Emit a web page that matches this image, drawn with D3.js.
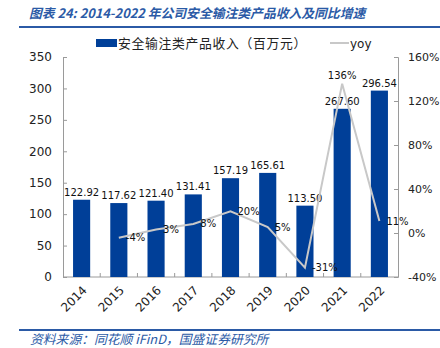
<!DOCTYPE html>
<html><head><meta charset="utf-8">
<script src="https://cdn.jsdelivr.net/npm/d3@7/dist/d3.min.js"></script>
<style>
html,body{margin:0;padding:0;background:#fff;}
svg{display:block;}
</style></head>
<body>
<script>
const years = ["2014","2015","2016","2017","2018","2019","2020","2021","2022"];
const revenue = [122.92,117.62,121.40,131.41,157.19,165.61,113.50,267.60,296.54];
const yoyYears = ["2015","2016","2017","2018","2019","2020","2021","2022"];
const yoy = [-4.31,3.21,8.25,19.62,5.36,-31.47,135.77,10.81];
const yoyLabels = ["-4%","3%","8%","20%","5%","-31%","136%","11%"];
const leftTicks = [0,50,100,150,200,250,300,350];
const rightTicks = [-40,0,40,80,120,160];
const titleText = "图表 24:  2014-2022 年公司安全输注类产品收入及同比增速";
const sourceText = "资料来源：同花顺 iFinD，国盛证券研究所";
const legendBar = "安全输注类产品收入（百万元）";
const legendLine = "yoy";

const W = 440, H = 348;
const blue = "#003f98", gray = "#c8c8c8", axisC = "#9a9a9a", hdr = "#2b5aa6";
const svg = d3.select("body").append("svg").attr("width", W).attr("height", H);

const x0 = 63, x1 = 398, yTop = 57, yBot = 277;
const x = d3.scaleBand().domain(years).range([x0, x1]).paddingInner(0.54).paddingOuter(0.27);
const xc = d => x(d) + x.bandwidth() / 2;
const yL = d3.scaleLinear().domain([0, 350]).range([yBot, yTop]);
const yR = d3.scaleLinear().domain([-40, 160]).range([yBot, yTop]);

// title
svg.append("text").attr("x", 29).attr("y", 18)
  .attr("font-family", "'Noto Sans CJK SC', sans-serif").attr("font-style", "italic")
  .attr("font-weight", "bold").attr("font-size", 12.8).attr("fill", hdr).text(titleText);
svg.append("line").attr("x1", 19).attr("x2", W).attr("y1", 27).attr("y2", 27)
  .attr("stroke", hdr).attr("stroke-width", 2);

// footer
svg.append("line").attr("x1", 19).attr("x2", W).attr("y1", 330).attr("y2", 330)
  .attr("stroke", hdr).attr("stroke-width", 2);
svg.append("text").attr("x", 30).attr("y", 344)
  .attr("font-family", "'Noto Sans CJK SC', sans-serif").attr("font-style", "italic")
  .attr("font-size", 12.8).attr("fill", hdr).text(sourceText);

// legend
svg.append("rect").attr("x", 96).attr("y", 39).attr("width", 21).attr("height", 8).attr("fill", blue);
svg.append("text").attr("x", 118).attr("y", 47.5)
  .attr("font-family", "'Noto Sans CJK SC', sans-serif").attr("font-size", 12.8)
  .attr("letter-spacing", 0.7).attr("fill", "#222").text(legendBar);
svg.append("line").attr("x1", 330).attr("x2", 349).attr("y1", 43).attr("y2", 43)
  .attr("stroke", gray).attr("stroke-width", 2);
svg.append("text").attr("x", 350).attr("y", 47.5)
  .attr("font-family", "'DejaVu Sans', sans-serif").attr("font-size", 12).attr("fill", "#222").text(legendLine);

// axes
const gL = svg.append("g").attr("transform", `translate(${x0},0)`)
  .call(d3.axisRight(yL).tickValues(leftTicks).tickSize(4).tickFormat(d3.format("d")));
gL.selectAll("text").attr("x", -11).attr("text-anchor", "end");
const gR = svg.append("g").attr("transform", `translate(${x1},0)`)
  .call(d3.axisLeft(yR).tickValues(rightTicks).tickSize(4).tickFormat(d => d + "%"));
gR.selectAll("text").attr("x", 10).attr("text-anchor", "start");
[gL, gR].forEach(g => {
  g.select(".domain").attr("stroke", axisC);
  g.selectAll(".tick line").attr("stroke", axisC);
  g.selectAll("text").attr("font-family", "'DejaVu Sans', sans-serif").attr("font-size", 12).attr("fill", "#222");
});
gR.selectAll("text").attr("font-size", 11);

// bottom axis
const gB = svg.append("g").attr("transform", `translate(0,${yBot})`);
gB.append("line").attr("x1", x0).attr("x2", x1).attr("y1", 0).attr("y2", 0).attr("stroke", axisC);
const step = x.step();
gB.selectAll("line.sep").data(years.slice(1)).join("line").attr("class", "sep")
  .attr("x1", d => x(d) - (step - x.bandwidth()) / 2).attr("x2", d => x(d) - (step - x.bandwidth()) / 2)
  .attr("y1", 0).attr("y2", -4).attr("stroke", axisC);
gB.selectAll("text").data(years).join("text")
  .attr("transform", d => `translate(${xc(d) + 3},${11}) rotate(-45)`)
  .attr("text-anchor", "end").attr("dy", "0.35em")
  .attr("font-family", "'DejaVu Sans', sans-serif").attr("font-size", 12).attr("fill", "#222")
  .text(d => d);

// bars
svg.selectAll("rect.bar").data(years).join("rect").attr("class", "bar")
  .attr("x", d => x(d)).attr("width", x.bandwidth())
  .attr("y", (d, i) => yL(revenue[i])).attr("height", (d, i) => yBot - yL(revenue[i]))
  .attr("fill", blue);
svg.selectAll("text.bl").data(years).join("text").attr("class", "bl")
  .attr("x", d => xc(d)).attr("y", (d, i) => yL(revenue[i]) - 4)
  .attr("text-anchor", "middle").attr("font-family", "'DejaVu Sans', sans-serif")
  .attr("font-size", 10).attr("fill", "#111").text((d, i) => revenue[i].toFixed(2));

// yoy line
const line = d3.line().x((d, i) => xc(yoyYears[i])).y(d => yR(d));
svg.append("path").datum(yoy).attr("d", line).attr("fill", "none")
  .attr("stroke", gray).attr("stroke-width", 2);
svg.selectAll("text.yl").data(yoy).join("text").attr("class", "yl")
  .attr("x", (d, i) => yoyLabels[i] === "136%" ? xc(yoyYears[i]) : xc(yoyYears[i]) + 7)
  .attr("y", (d, i) => yoyLabels[i] === "136%" ? yR(d) - 5 : yR(d))
  .attr("dy", (d, i) => yoyLabels[i] === "136%" ? 0 : "0.35em")
  .attr("text-anchor", (d, i) => yoyLabels[i] === "136%" ? "middle" : "start")
  .attr("font-family", "'DejaVu Sans', sans-serif").attr("font-size", 10).attr("fill", "#111")
  .text((d, i) => yoyLabels[i]);
</script>
</body></html>
